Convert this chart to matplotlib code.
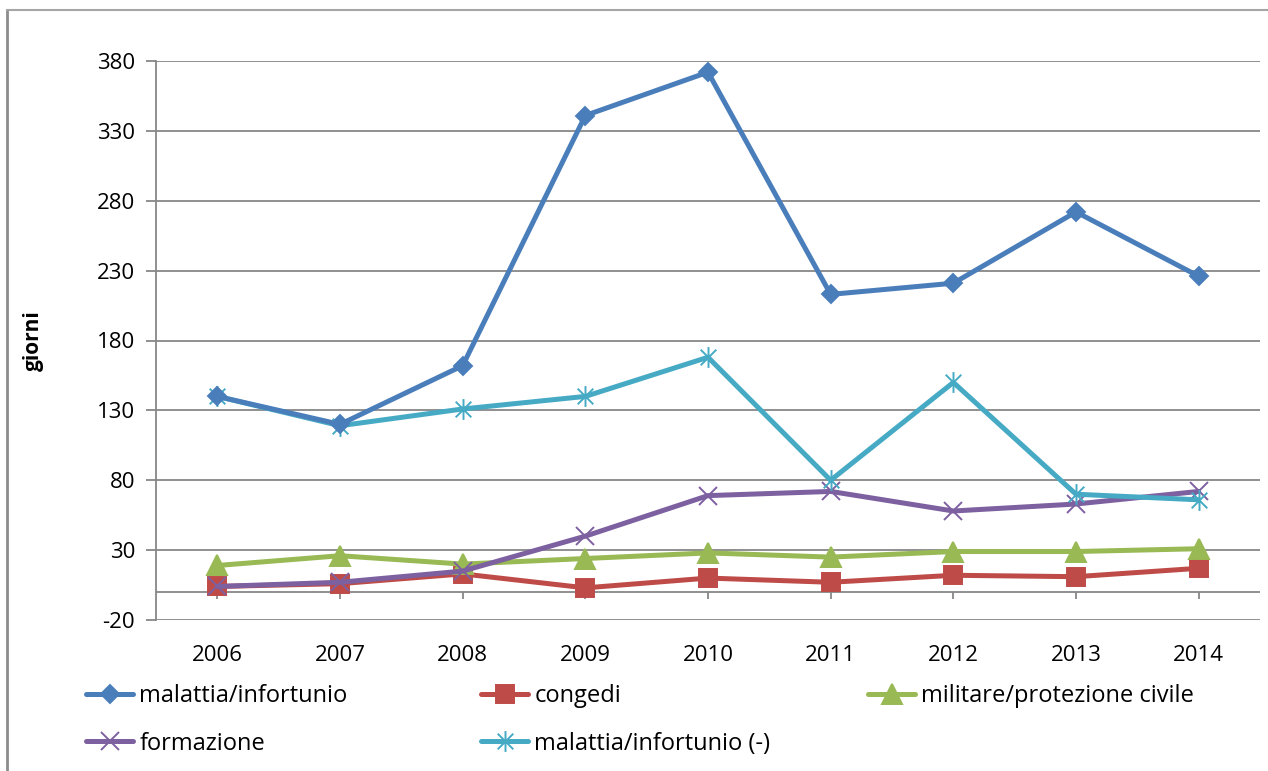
import numpy as np
import matplotlib
matplotlib.use('Agg')
import matplotlib.pyplot as plt
from matplotlib.path import Path
from matplotlib.lines import Line2D

plt.rcParams['font.family'] = ['Open Sans', 'DejaVu Sans']
plt.rcParams['axes.unicode_minus'] = False

years = ['2006', '2007', '2008', '2009', '2010', '2011', '2012', '2013', '2014']
malattia = [140, 120, 162, 341, 372, 213, 221, 272, 226]
congedi = [4, 6, 13, 3, 10, 7, 12, 11, 17]
militare = [19, 26, 20, 24, 28, 25, 29, 29, 31]
formazione = [4, 7, 15, 40, 69, 72, 58, 63, 72]
malattia_neg = [140, 119, 131, 140, 168, 80, 150, 70, 66]

yticks = list(range(-20, 381, 50))

W, H = 1268, 771
fig = plt.figure(figsize=(W / 100, H / 100), dpi=100)
ax = fig.add_axes([156 / W, 1 - 620 / H, (1260 - 156) / W, (620 - 61) / H])

# asterisk marker: vertical bar + X
ast = Path([(0, -1), (0, 1), (-0.75, -0.75), (0.75, 0.75), (-0.75, 0.75), (0.75, -0.75)],
           [Path.MOVETO, Path.LINETO, Path.MOVETO, Path.LINETO, Path.MOVETO, Path.LINETO])

x = np.arange(len(years))
series = [
    ('malattia/infortunio', malattia, '#4A7EBB', 'D', 9),
    ('congedi', congedi, '#BE4B48', 's', 13),
    ('militare/protezione civile', militare, '#98B954', '^', 14),
    ('formazione', formazione, '#7D60A0', 'x', 13),
    ('malattia/infortunio (-)', malattia_neg, '#46AAC5', ast, 15),
]
handles = {}
for name, vals, col, mk, ms in series:
    l, = ax.plot(x, vals, color=col, lw=3.6, marker=mk, markersize=ms,
                 markerfacecolor=col, markeredgecolor=col, markeredgewidth=1.4,
                 solid_capstyle='round', label=name, zorder=3)
    handles[name] = l

handles['malattia/infortunio'].set_zorder(4)

ax.set_xlim(-0.5, len(years) - 0.5)
ax.set_ylim(-20, 380)
ax.set_yticks(yticks)
ax.set_xticks(x)
ax.set_xticklabels(years)
ax.yaxis.grid(True, color='#878787', lw=1.3)
ax.set_axisbelow(True)
ax.axhline(0, color='#878787', lw=1.3, zorder=1)

for s in ['top', 'right']:
    ax.spines[s].set_visible(False)
ax.spines['left'].set_color('#878787')
ax.spines['left'].set_linewidth(1.3)
ax.spines['bottom'].set_position(('data', 0))
ax.spines['bottom'].set_visible(False)
ax.tick_params(axis='y', length=7, width=1.3, color='#878787', labelsize=16, pad=8)
ax.tick_params(axis='x', length=5, width=1.3, color='#878787', labelsize=16, pad=33)

ax.set_ylabel('giorni', fontsize=15, fontweight='bold')
ax.yaxis.set_label_coords(-112 / (1260 - 156), 0.5)

# legend in three columns
cols = [(['malattia/infortunio', 'formazione'], 86),
        (['congedi', 'malattia/infortunio (-)'], 481),
        (['militare/protezione civile'], 868)]
for names, xpix in cols:
    fig.legend([handles[n] for n in names], names, loc='upper left',
               bbox_to_anchor=(xpix / W, 1 - 684 / H), frameon=False,
               fontsize=17, handlelength=2.0, handletextpad=0.25,
               labelspacing=1.0, borderaxespad=0, borderpad=0)

# chart-area border
fig.add_artist(Line2D([6.5 / W, 6.5 / W], [0, 1 - 9.5 / H], transform=fig.transFigure,
                      color='#8C8C8C', lw=2))
fig.add_artist(Line2D([6.5 / W, 1], [1 - 9.5 / H, 1 - 9.5 / H], transform=fig.transFigure,
                      color='#A6A6A6', lw=1.5))

fig.savefig('out.png', dpi=100)
